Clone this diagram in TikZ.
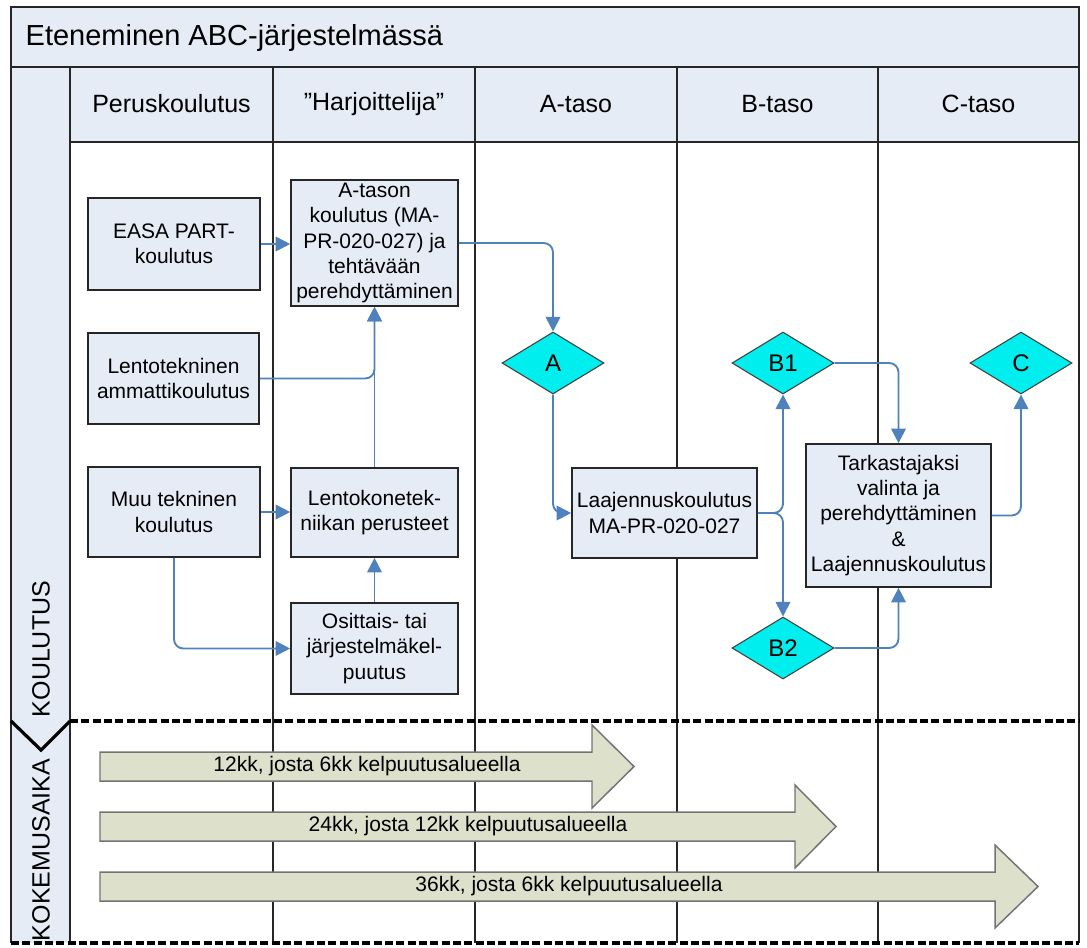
\documentclass[tikz,border=0pt]{standalone}
\usepackage{fontspec}
\setmainfont{Liberation Sans}
\usetikzlibrary{arrows.meta,shapes.geometric}
\definecolor{paleblue}{RGB}{230,236,246}
\definecolor{connblue}{RGB}{79,129,189}
\definecolor{dcyan}{RGB}{0,238,238}
\definecolor{olivefill}{RGB}{221,224,203}
\definecolor{arrowedge}{RGB}{115,115,115}
\begin{document}
\begin{tikzpicture}[x=0.75pt,y=-0.75pt,
  lane/.style={draw=black!85, line width=1.2pt},
  sep/.style={draw=black, line width=2.8pt, dash pattern=on 6pt off 2.5pt},
  box/.style={draw=black!85, fill=paleblue, line width=1.2pt, align=center, inner sep=0pt,
    font=\fontsize{15.75}{19}\selectfont},
  dia/.style={diamond, draw=black!75, fill=dcyan, line width=0.8pt, inner sep=0pt,
    minimum width=76.5pt, minimum height=46.5pt, font=\fontsize{18}{20}\selectfont},
  head/.style={font=\fontsize{18.75}{22}\selectfont},
  side/.style={rotate=90, font=\fontsize{18.75}{22}\selectfont},
  conn/.style={draw=connblue, line width=1.4pt, rounded corners=7pt,
    -{Triangle[length=11pt,width=11pt]}},
  bigarrow/.style={draw=arrowedge, fill=olivefill, line width=1.1pt, line join=miter},
  atext/.style={font=\fontsize{15.75}{19}\selectfont}
]
\useasboundingbox (0,0) rectangle (1087,947);
% backgrounds
\fill[paleblue] (11,7) rectangle (1079,67);
\fill[paleblue] (11,67) rectangle (70,943);
\fill[paleblue] (70,67) rectangle (1079,142);
% frame and lanes
\draw[lane, line width=1.5pt] (11,943) -- (11,7) -- (1079,7) -- (1079,943);
\draw[lane] (11,67) -- (1079,67);
\draw[lane] (70,142) -- (1079,142);
\foreach \xx in {70,273,475,677,878} \draw[lane] (\xx,67) -- (\xx,943);
\draw[sep] (70,721) -- (1079,721);
\draw[sep] (11,943) -- (1079,943);
\draw[black, line width=2.4pt, line join=miter] (11,721) -- (41,750) -- (70,721);
% texts
\node[anchor=west, font=\fontsize{21.75}{24}\selectfont] (title) at (21,38) {Eteneminen ABC-järjestelmässä};
\node[head] (h1) at (171.5,104) {Peruskoulutus};
\node[head] (h2) at (374,104) {”Harjoittelija”};
\node[head] (h3) at (576,104) {A-taso};
\node[head] (h4) at (777.5,104) {B-taso};
\node[head] (h5) at (978.5,104) {C-taso};
\node[side] (koul) at (41,649) {KOULUTUS};
\node[side] (koke) at (41,850) {KOKEMUSAIKA};
% experience arrows
\draw[bigarrow] (100,752) -- (592,752) -- (592,725) -- (634,766.5) -- (592,808) -- (592,781) -- (100,781) -- cycle;
\node[atext] (t12) at (367,766.5) {12kk, josta 6kk kelpuutusalueella};
\draw[bigarrow] (100,812) -- (795,812) -- (795,785) -- (836,826.5) -- (795,868) -- (795,841) -- (100,841) -- cycle;
\node[atext] (t24) at (468,826.5) {24kk, josta 12kk kelpuutusalueella};
\draw[bigarrow] (100,872) -- (995,872) -- (995,845) -- (1038,886.5) -- (995,928) -- (995,901) -- (100,901) -- cycle;
\node[atext] (t36) at (569,886.5) {36kk, josta 6kk kelpuutusalueella};
% boxes
\node[box, minimum width=129pt, minimum height=69pt] (easa) at (174,244) {EASA PART-\\koulutus};
\node[box, minimum width=125.25pt, minimum height=94.5pt] (atason) at (374.5,243) {A-tason\\koulutus (MA-\\PR-020-027) ja\\tehtävään\\perehdyttäminen};
\node[box, minimum width=128.25pt, minimum height=68.25pt] (lento) at (173.5,378.5) {Lentotekninen\\ammattikoulutus};
\node[box, minimum width=129pt, minimum height=67.5pt] (muu) at (174,512) {Muu tekninen\\koulutus};
\node[box, minimum width=125.25pt, minimum height=66.75pt] (lkt) at (374.5,512.5) {Lentokonetek-\\niikan perusteet};
\node[box, minimum width=125.25pt, minimum height=68.25pt] (osit) at (374.5,648.5) {Osittais- tai\\järjestelmäkel-\\puutus};
\node[box, minimum width=138.75pt, minimum height=67.5pt] (laaj) at (664.5,513) {Laajennuskoulutus\\MA-PR-020-027};
\node[box, minimum width=138.75pt, minimum height=107.25pt] (tark) at (898.5,515.5) {Tarkastajaksi\\valinta ja\\perehdyttäminen\\\&\\Laajennuskoulutus};
\node[dia] (A) at (553,363) {A};
\node[dia] (B1) at (783,363) {B1};
\node[dia] (C) at (1021,363) {C};
\node[dia] (B2) at (783,648) {B2};
% connectors
\draw[conn] (easa.east) -- (easa.east -| atason.west);
\draw[conn] (lento.east) -| (atason.south);
\draw[conn] (lkt.north) -- (atason.south);
\draw[conn] (muu.east) -- (muu.east -| lkt.west);
\draw[conn] (muu.south) |- (osit.west);
\draw[conn] (osit.north) -- (lkt.south);
\draw[conn] (atason.east) -| (A.north);
\draw[conn] (A.south) |- (laaj.west);
\draw[conn] (laaj.east) -| (B1.south);
\draw[conn] (laaj.east) -| (B2.north);
\draw[conn] (B1.east) -| (tark.north);
\draw[conn] (B2.east) -| (tark.south);
\draw[conn] (tark.east) -| (C.south);
\end{tikzpicture}
\end{document}
